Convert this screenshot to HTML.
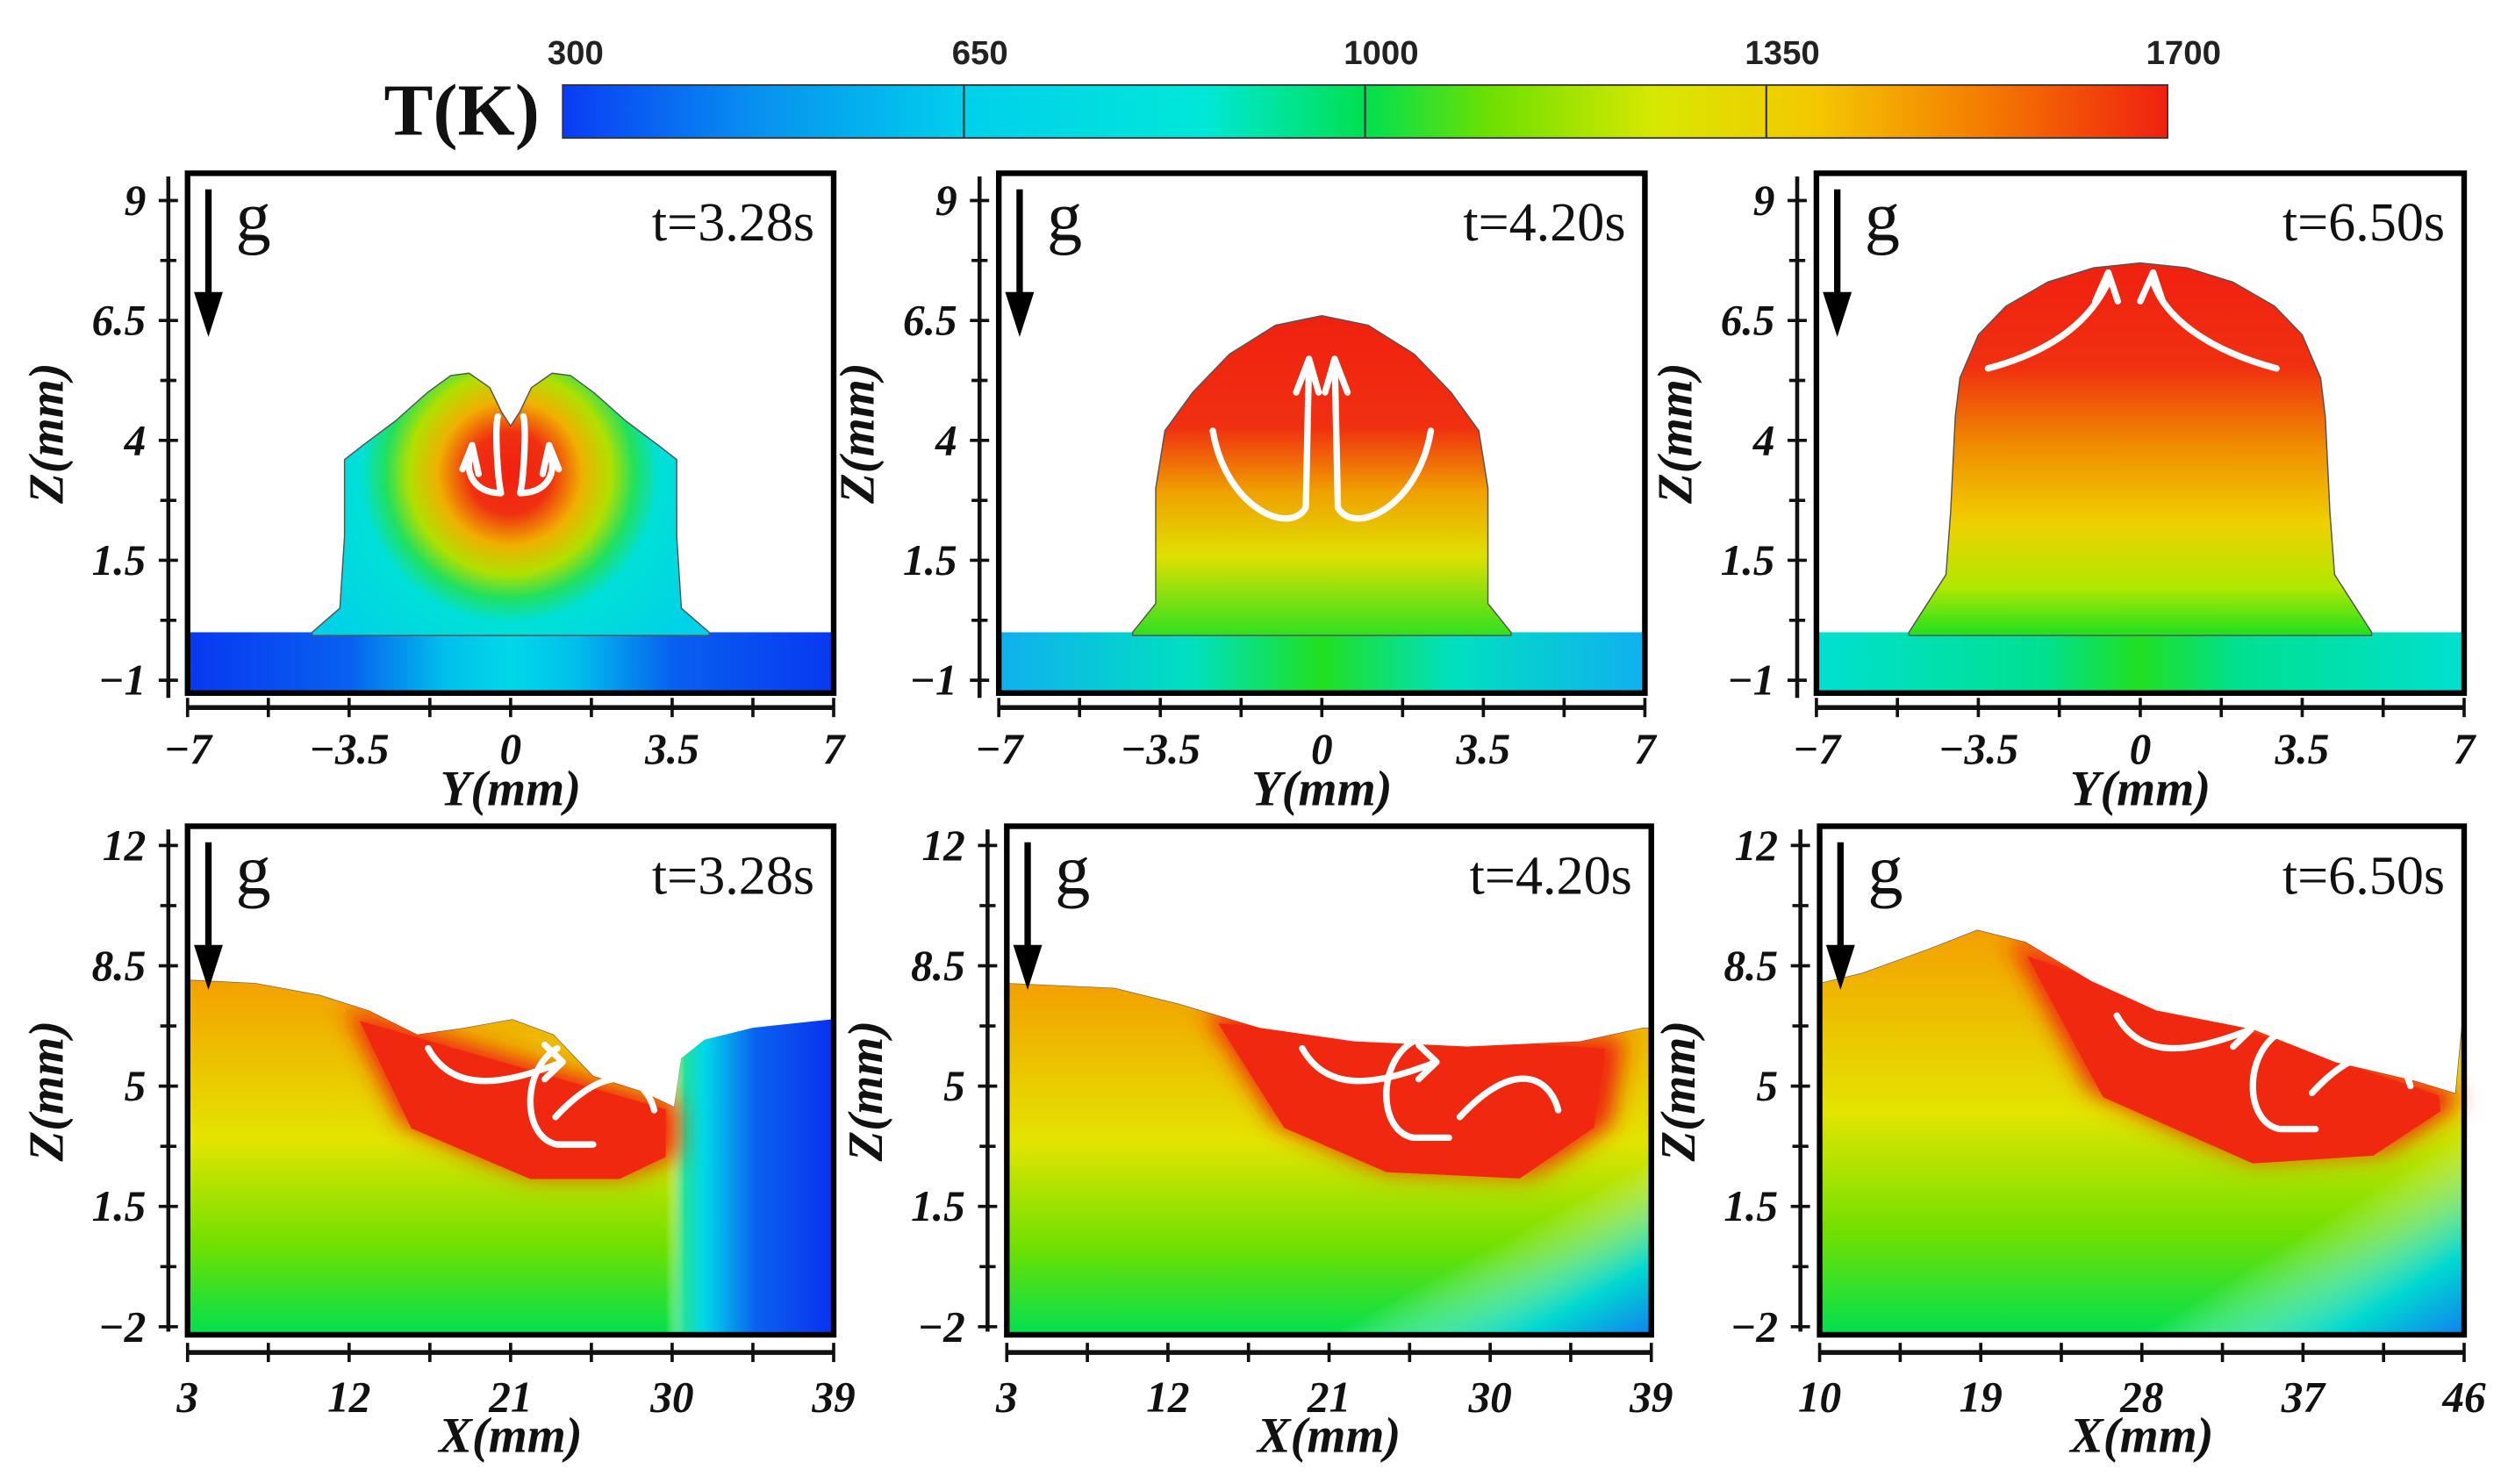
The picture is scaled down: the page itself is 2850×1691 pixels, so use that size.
<!DOCTYPE html>
<html><head><meta charset="utf-8"><style>
html,body{margin:0;padding:0;background:#fff;}
svg{display:block;}
.tl{font-family:"Liberation Serif",serif;font-weight:bold;font-style:italic;font-size:27px;fill:#111;}
.tt{font-family:"Liberation Serif",serif;font-weight:bold;font-style:italic;font-size:31px;fill:#111;}
.tm{font-family:"Liberation Serif",serif;font-size:34px;fill:#111;}
.cb{font-family:"Liberation Sans",sans-serif;font-weight:bold;font-size:21px;fill:#222;}
</style></head><body>
<svg id="fig" width="2850" height="1691" viewBox="0 0 1560 925" preserveAspectRatio="none" xmlns="http://www.w3.org/2000/svg">
<defs>
<filter id="soft" x="-20%" y="-20%" width="140%" height="140%"><feGaussianBlur stdDeviation="7"/></filter>
<linearGradient id="cbar" x1="0" x2="1" y1="0" y2="0">
<stop offset="0" stop-color="#0a3cf5"/><stop offset="0.12" stop-color="#0890f0"/><stop offset="0.25" stop-color="#00d0ec"/><stop offset="0.4" stop-color="#00e8d8"/><stop offset="0.5" stop-color="#00e050"/><stop offset="0.58" stop-color="#70e000"/><stop offset="0.68" stop-color="#d8e800"/><stop offset="0.78" stop-color="#f4c800"/><stop offset="0.88" stop-color="#f48000"/><stop offset="1" stop-color="#f02010"/>
</linearGradient>
<linearGradient id="t1sub" x1="0" x2="1"><stop offset="0" stop-color="#0838f0"/><stop offset="0.25" stop-color="#0860f0"/><stop offset="0.4" stop-color="#00c0ec"/><stop offset="0.5" stop-color="#00d8e8"/><stop offset="0.6" stop-color="#00c0ec"/><stop offset="0.75" stop-color="#0860f0"/><stop offset="1" stop-color="#0838f0"/></linearGradient>
<radialGradient id="t1bead" cx="318" cy="295" r="150" gradientUnits="userSpaceOnUse"><stop offset="0" stop-color="#f02010"/><stop offset="0.17" stop-color="#f03010"/><stop offset="0.3" stop-color="#f0b000"/><stop offset="0.42" stop-color="#b0e000"/><stop offset="0.52" stop-color="#20e060"/><stop offset="0.62" stop-color="#00e0d8"/><stop offset="1" stop-color="#00d0e8"/></radialGradient>
<linearGradient id="t2sub" x1="0" x2="1"><stop offset="0" stop-color="#10b0f0"/><stop offset="0.3" stop-color="#00e0c0"/><stop offset="0.5" stop-color="#20e020"/><stop offset="0.7" stop-color="#00e0c0"/><stop offset="1" stop-color="#10b0f0"/></linearGradient>
<linearGradient id="t2bead" x1="0" x2="0" y1="0" y2="1"><stop offset="0" stop-color="#f02010"/><stop offset="0.35" stop-color="#f03010"/><stop offset="0.55" stop-color="#f0a000"/><stop offset="0.75" stop-color="#e0e000"/><stop offset="1" stop-color="#30e020"/></linearGradient>
<linearGradient id="t3sub" x1="0" x2="1"><stop offset="0" stop-color="#00e0d0"/><stop offset="0.35" stop-color="#00e090"/><stop offset="0.5" stop-color="#20e020"/><stop offset="0.65" stop-color="#00e090"/><stop offset="1" stop-color="#00e0d0"/></linearGradient>
<linearGradient id="t3bead" x1="0" x2="0" y1="0" y2="1"><stop offset="0" stop-color="#f02010"/><stop offset="0.28" stop-color="#f03010"/><stop offset="0.5" stop-color="#f09000"/><stop offset="0.7" stop-color="#f0d000"/><stop offset="0.87" stop-color="#b0e800"/><stop offset="1" stop-color="#20e020"/></linearGradient>
<linearGradient id="bv1" x1="0" x2="0" y1="0" y2="1"><stop offset="0" stop-color="#f4a000"/><stop offset="0.45" stop-color="#e4e400"/><stop offset="0.75" stop-color="#70e000"/><stop offset="1" stop-color="#00e050"/></linearGradient>
<linearGradient id="bh1" x1="0" x2="1"><stop offset="0" stop-color="#fff" stop-opacity="0"/><stop offset="0.74" stop-color="#fff" stop-opacity="0"/><stop offset="0.77" stop-color="#20e0a0"/><stop offset="0.8" stop-color="#00d8e8"/><stop offset="0.88" stop-color="#0a60f0"/><stop offset="1" stop-color="#0a30f0"/></linearGradient>
<linearGradient id="bh2" x1="0" x2="1" y1="0" y2="1"><stop offset="0" stop-color="#fff" stop-opacity="0"/><stop offset="0.75" stop-color="#fff" stop-opacity="0"/><stop offset="0.9" stop-color="#00d8d0"/><stop offset="1" stop-color="#1080f0"/></linearGradient>
<linearGradient id="redpool" x1="0" x2="0" y1="0" y2="1"><stop offset="0" stop-color="#f02810"/><stop offset="0.85" stop-color="#f02810"/><stop offset="1" stop-color="#f05010" stop-opacity="0.7"/></linearGradient>
</defs>
<g id="root"></g>
</svg>
<script>
// Colorbar data
const cbTicks = [300, 650, 1000, 1350, 1700];
// Top-row axes
const topYTicks = [-7, -3.5, 0, 3.5, 7];
const topZTicks = [-1, 1.5, 4, 6.5, 9];
// Bottom-row axes
const botX1Ticks = [3, 12, 21, 30, 39];
const botX3Ticks = [10, 19, 28, 37, 46];
const botZTicks = [-2, 1.5, 5, 8.5, 12];
const times = ["t=3.28s", "t=4.20s", "t=6.50s"];
// Bead cross-section profiles (half, Y>=0 mirrored), [Y, Z] in mm
const bead1 = [[0,4.3],[0.2,4.6],[0.45,5.1],[0.9,5.4],[1.3,5.35],[1.8,5.0],[2.5,4.4],[3.2,3.9],[3.6,3.6],[3.6,2.0],[3.7,0.5],[4.3,0]];
const bead2 = [[0,6.6],[1.0,6.4],[2.0,5.8],[2.8,5.0],[3.4,4.2],[3.6,3.0],[3.6,0.6],[4.1,0]];
const bead3 = [[0,7.7],[1.0,7.6],[2.0,7.3],[2.9,6.8],[3.5,6.2],[3.9,5.3],[4.0,4.5],[4.1,2.5],[4.2,1.2],[5.0,0]];
// Longitudinal surface profiles [X, Z] in mm
const surf1 = [[3,8.1],[6.8,8.0],[10.4,7.65],[13.1,7.2],[15.8,6.5],[18.4,6.7],[21.1,6.95],[23.4,6.5],[25.6,5.3],[28.3,4.85],[30.1,4.4],[30.5,5.8],[31.8,6.35],[34.5,6.7],[39,6.95]];
const pool1 = [[11.75,7.3],[14.9,3.9],[22.1,2.3],[27.5,2.3],[30.3,3.0],[30.3,4.5]];
const surf2 = [[3,8.0],[9.0,7.86],[12.6,7.4],[17.1,6.7],[22.4,6.3],[28.7,6.15],[35,6.3],[38.5,6.7],[39,6.7]];
const pool2 = [[14,7.2],[18,3.9],[24.2,2.5],[32.3,2.3],[36.8,3.9],[37.5,6.4]];
const surf3 = [[10,8.0],[12.4,8.3],[16.1,9.0],[18.8,9.55],[21.5,9.2],[25.2,8.05],[28.8,7.2],[34.2,6.65],[38.8,5.7],[43.3,5.15],[45.5,4.8],[45.9,7.0],[46,7.0]];
const pool3 = [[20.5,9.3],[25.1,4.85],[34.2,2.75],[41.5,3.0],[45.6,4.4],[45.5,4.9]];

const NS = "http://www.w3.org/2000/svg";
const root = document.getElementById('root');
function mk(tag, attrs, parent) {
  const e = document.createElementNS(NS, tag);
  for (const k in attrs) e.setAttribute(k, attrs[k]);
  (parent || root).appendChild(e);
  return e;
}
function txt(s, x, y, cls, anchor, parent) {
  const t = mk('text', {x: x, y: y, class: cls, 'text-anchor': anchor || 'middle'}, parent);
  t.textContent = s;
  return t;
}

// Colorbar
const cbX0 = 351, cbX1 = 1352;
const cbScale = v => cbX0 + (v - 300) / 1400 * (cbX1 - cbX0);
const cbr = mk('rect', {x: cbX0, y: 53, width: cbX1 - cbX0, height: 33, fill: 'url(#cbar)', stroke: '#333', 'stroke-width': 1});


cbTicks.forEach((v, i) => {
  const x = cbScale(v);
  if (i > 0 && i < cbTicks.length - 1) {
    const l = mk('line', {x1: x, x2: x, y1: 53, y2: 86, stroke: '#333', 'stroke-width': 1.2});
    
    
  }
  const t = txt(String(v), x + (i === 0 ? 8 : 10), 40, 'cb');
  
  
});
const tk = txt('T(K)', 288, 84, 'tm', 'middle');
tk.setAttribute('style', 'font-weight:bold;font-size:46px');



function axisV(ax, y0, y1, ticks, sy, title, ty) {
  const g = mk('g', {});
  
  
  mk('line', {x1: ax, x2: ax, y1: y0, y2: y1, stroke: '#111', 'stroke-width': 2.5}, g);
  for (let i = 0; i < ticks.length; i++) {
    const v = ticks[i];
    const y = sy(v);
    mk('line', {x1: ax - 6, x2: ax + 6, y1: y, y2: y, stroke: '#111', 'stroke-width': 2}, g);
    if (i < ticks.length - 1) {
      const ym = sy((v + ticks[i + 1]) / 2);
      mk('line', {x1: ax - 5, x2: ax + 5, y1: ym, y2: ym, stroke: '#111', 'stroke-width': 2}, g);
    }
    const t = txt(String(v).replace('-', '\u2212'), ax - 14, y + 9, 'tl', 'end', g);
    
    
  }
  const tt = txt('Z(mm)', 0, 0, 'tt', 'middle', g);
  tt.setAttribute('transform', `translate(${ax - 66},${ty}) rotate(-90)`);
  
  
}
function axisH(ay, x0, x1, ticks, sx, title, ly, tly) {
  const g = mk('g', {});
  
  
  mk('line', {x1: x0, x2: x1, y1: ay, y2: ay, stroke: '#111', 'stroke-width': 3}, g);
  for (let i = 0; i < ticks.length; i++) {
    const v = ticks[i];
    const x = sx(v);
    mk('line', {x1: x, x2: x, y1: ay - 6, y2: ay + 6, stroke: '#111', 'stroke-width': 2}, g);
    if (i < ticks.length - 1) {
      const xm = sx((v + ticks[i + 1]) / 2);
      mk('line', {x1: xm, x2: xm, y1: ay - 6, y2: ay + 6, stroke: '#111', 'stroke-width': 2}, g);
    }
    const t = txt(String(v).replace('-', '\u2212'), x, ly, 'tl', 'middle', g);
    
    
  }
  const tt = txt(title, (x0 + x1) / 2, tly, 'tt', 'middle', g);
  
  
}
function gArrow(fx, fy, parent) {
  mk('line', {x1: fx + 12, x2: fx + 12, y1: fy + 8, y2: fy + 78, stroke: '#000', 'stroke-width': 4}, parent);
  mk('polygon', {points: `${fx+3},${fy+72} ${fx+21},${fy+72} ${fx+12},${fy+100}`, fill: '#000'}, parent);
  const t = txt('g', fx + 40, fy + 40, 'tm', 'middle', parent);
  t.setAttribute('style', 'font-size:44px');
  
  
}
function ptsPath(arr, sx, sy) {
  return arr.map((p, i) => (i ? 'L' : 'M') + sx(p[0]).toFixed(1) + ',' + sy(p[1]).toFixed(1)).join(' ');
}
function white(d, parent) {
  const p = mk('path', {d: d, fill: 'none', stroke: '#fff', 'stroke-width': 4, 'stroke-linecap': 'round', 'stroke-linejoin': 'round'}, parent);
  
  
}

// Top row
const topFrames = [[117, 520], [623, 1026], [1133, 1537]];
const beads = [bead1, bead2, bead3];
const subFill = ['url(#t1sub)', 'url(#t2sub)', 'url(#t3sub)'];
const beadFill = ['url(#t1bead)', 'url(#t2bead)', 'url(#t3bead)'];
topFrames.forEach((f, k) => {
  const [fx0, fx1] = f;
  const sx = v => fx0 + (v + 7) / 14 * (fx1 - fx0);
  const sy = v => 424 - (v + 1) * 29.9;
  const panel = mk('g', {});
  
  
  const sub = mk('rect', {x: fx0, y: sy(0), width: fx1 - fx0, height: 432 - sy(0), fill: subFill[k]}, panel);
  
  
  const b = beads[k];
  const full = b.slice().reverse().map(p => [-p[0], p[1]]).concat(b.slice(1));
  const d = ptsPath(full, sx, sy) + ' L' + sx(b[b.length-1][0]) + ',' + (sy(0) + 2) + ' L' + sx(-b[b.length-1][0]) + ',' + (sy(0) + 2) + ' Z';
  const bp = mk('path', {d: d, fill: beadFill[k], stroke: '#555', 'stroke-width': 0.8, 'stroke-linejoin': 'round'}, panel);
  
  
  const cx = sx(0);
  if (k === 0) {
    white(`M${cx-6},${sy(2.9)} C${cx-8},${sy(3.2)} ${cx-10},${sy(4.2)} ${cx-8},${sy(4.5)} M${cx-6},${sy(2.9)} C${cx-22},${sy(2.9)} ${cx-30},${sy(3.3)} ${cx-24},${sy(3.8)} M${cx-30},${sy(3.4)} L${cx-24},${sy(3.9)} L${cx-20},${sy(3.3)}`, panel);
    white(`M${cx+6},${sy(2.9)} C${cx+8},${sy(3.2)} ${cx+10},${sy(4.2)} ${cx+8},${sy(4.5)} M${cx+6},${sy(2.9)} C${cx+22},${sy(2.9)} ${cx+30},${sy(3.3)} ${cx+24},${sy(3.8)} M${cx+30},${sy(3.4)} L${cx+24},${sy(3.9)} L${cx+20},${sy(3.3)}`, panel);
  } else if (k === 1) {
    white(`M${cx-68},${sy(4.2)} C${cx-60},${sy(2.6)} ${cx-20},${sy(2.0)} ${cx-10},${sy(2.6)} L${cx-8},${sy(5.7)} M${cx-16},${sy(5.0)} L${cx-8},${sy(5.7)} L${cx-2},${sy(5.0)}`, panel);
    white(`M${cx+68},${sy(4.2)} C${cx+60},${sy(2.6)} ${cx+20},${sy(2.0)} ${cx+10},${sy(2.6)} L${cx+8},${sy(5.7)} M${cx+2},${sy(5.0)} L${cx+8},${sy(5.7)} L${cx+16},${sy(5.0)}`, panel);
  } else {
    white(`M${cx-95},${sy(5.5)} C${cx-50},${sy(5.9)} ${cx-30},${sy(6.6)} ${cx-20},${sy(7.3)} M${cx-28},${sy(6.9)} L${cx-20},${sy(7.5)} L${cx-14},${sy(6.9)}`, panel);
    white(`M${cx+85},${sy(5.5)} C${cx+40},${sy(5.9)} ${cx+15},${sy(6.6)} ${cx+8},${sy(7.3)} M${cx},${sy(6.9)} L${cx+8},${sy(7.5)} L${cx+14},${sy(6.9)}`, panel);
  }
  const fr = mk('rect', {x: fx0, y: 108, width: fx1 - fx0, height: 324, fill: 'none', stroke: '#000', 'stroke-width': 3.5}, panel);
  
  
  gArrow(fx0 + 1, 110, panel);
  const tl = txt(times[k], fx1 - 12, 150, 'tm', 'end', panel);
  
  
  axisV(fx0 - 12, 110, 435, topZTicks, sy, 'Z(mm)', 270);
  axisH(441, fx0, fx1, topYTicks, sx, 'Y(mm)', 476, 502);
});

// Bottom row
const botFrames = [[117, 520], [628, 1030], [1135, 1537]];
const botTicks = [botX1Ticks, botX1Ticks, botX3Ticks];
const surfs = [surf1, surf2, surf3];
const pools = [pool1, pool2, pool3];
const overlays = ['url(#bh1)', 'url(#bh2)', 'url(#bh2)'];
botFrames.forEach((f, k) => {
  const [fx0, fx1] = f;
  const tks = botTicks[k];
  const xa = tks[0], xb = tks[tks.length - 1];
  const sx = v => fx0 + (v - xa) / (xb - xa) * (fx1 - fx0);
  const sy = v => 827 - (v + 2) * 21.43;
  const panel = mk('g', {});
  
  
  const s = surfs[k];
  const d = ptsPath(s, sx, sy) + ` L${fx1},832 L${fx0},832 Z`;
  const body = mk('path', {d: d, fill: 'url(#bv1)', stroke: '#666', 'stroke-width': 0.8}, panel);
  
  
  const ov = mk('path', {d: d, fill: overlays[k]}, panel);
  
  
  const pl = pools[k];
  const pd = ptsPath(pl, sx, sy) + ' Z';
  const pp = mk('path', {d: pd, fill: 'url(#redpool)', filter: 'url(#soft)'}, panel);
  
  
  const pp2 = mk('path', {d: pd, fill: '#f02810', transform: `translate(${(sx(pl[2][0]) )*0.08},${sy(pl[2][1])*0.08}) scale(0.92)`}, panel);
  
  
  const above = ptsPath(s, sx, sy) + ` L${fx1},515 L${fx0},515 Z`;
  mk('path', {d: above, fill: '#fff'}, panel);
  const a = pl[1], b2 = pl[2], c = pl[3];
  const px = v => sx(v), py = v => sy(v);
  white(`M${px(a[0]+1.5)},${py(a[1]+2.2)} C${px(a[0]+3)},${py(a[1]+0.8)} ${px(a[0]+6)},${py(a[1]+1.2)} ${px(a[0]+9)},${py(a[1]+1.8)} M${px(a[0]+8)},${py(a[1]+2.3)} L${px(a[0]+9)},${py(a[1]+1.8)} L${px(a[0]+8)},${py(a[1]+1.3)}`, panel);
  white(`M${px(b2[0]+1.5)},${py(b2[1]+3.8)} C${px(b2[0]-0.5)},${py(b2[1]+3.2)} ${px(b2[0]-0.5)},${py(b2[1]+1.2)} ${px(b2[0]+1.5)},${py(b2[1]+1.0)} L${px(b2[0]+3.5)},${py(b2[1]+1.0)}`, panel);
  white(`M${px(c[0]-4)},${py(c[1]+1.8)} C${px(c[0]-1)},${py(c[1]+3.5)} ${px(c[0]+1)},${py(c[1]+3)} ${px(c[0]+1.5)},${py(c[1]+2)}`, panel);
  const fr = mk('rect', {x: fx0, y: 515, width: fx1 - fx0, height: 317, fill: 'none', stroke: '#000', 'stroke-width': 3.5}, panel);
  
  
  gArrow(fx0 + 1, 517, panel);
  const tl = txt(times[k], fx1 - 12, 557, 'tm', 'end', panel);
  
  
  axisV(fx0 - 12, 517, 830, botZTicks, sy, 'Z(mm)', 680);
  axisH(843, fx0, fx1, tks, sx, 'X(mm)', 880, 905);
});
</script>
</body></html>
